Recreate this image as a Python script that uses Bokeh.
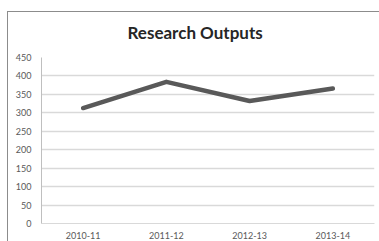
from bokeh.plotting import figure
from bokeh.models import InlineStyleSheet
from bokeh.embed import file_html
from bokeh.resources import INLINE

years = ["2010-11", "2011-12", "2012-13", "2013-14"]
outputs = [313, 384, 332, 366]
y_ticks = list(range(0, 451, 50))

p = figure(width=379, height=241, x_range=years, y_range=(0, 450),
           output_backend="svg", toolbar_location=None,
           min_border_left=41, min_border_right=5, min_border_top=57, min_border_bottom=18)
p.x_range.range_padding = 0
p.outline_line_color = None
p.background_fill_color = "white"
p.border_fill_color = "white"

p.title.text = "Research Outputs"
p.title.align = "left"
p.title.offset = 86
p.title.standoff = 30
p.title.text_font = "Lato"
p.title.text_font_style = "bold"
p.title.text_font_size = "17px"
p.title.text_color = "#262626"

p.line(years, outputs, line_color="#595959", line_width=4.5, line_cap="round", line_join="round")

for ax in (p.xaxis, p.yaxis):
    ax.major_tick_line_color = None
    ax.minor_tick_line_color = None
    ax.major_tick_out = 0
    ax.major_tick_in = 0
    ax.minor_tick_out = 0
    ax.minor_tick_in = 0
    ax.major_label_text_font = "Lato"
    ax.major_label_text_font_size = "9px"
    ax.major_label_text_color = "#595959"

p.yaxis.ticker = y_ticks
p.yaxis.axis_line_color = "#bfbfbf"
p.yaxis.major_label_standoff = 10

p.xaxis.axis_line_color = "#d9d9d9"
p.xaxis.major_label_standoff = 8

p.xgrid.grid_line_color = None
p.ygrid.grid_line_color = "#d9d9d9"
p.ygrid.grid_line_width = 1.5

p.stylesheets = [InlineStyleSheet(css=(
    ":host { position: relative; }"
    ":host::after { content: ''; position: absolute; left: 7px; top: 11px; right: 0; bottom: 0;"
    " border-top: 1px solid #8c8c8c; border-left: 1px solid #8c8c8c; pointer-events: none; }"
))]

open("out.html", "w").write(file_html(p, INLINE))
